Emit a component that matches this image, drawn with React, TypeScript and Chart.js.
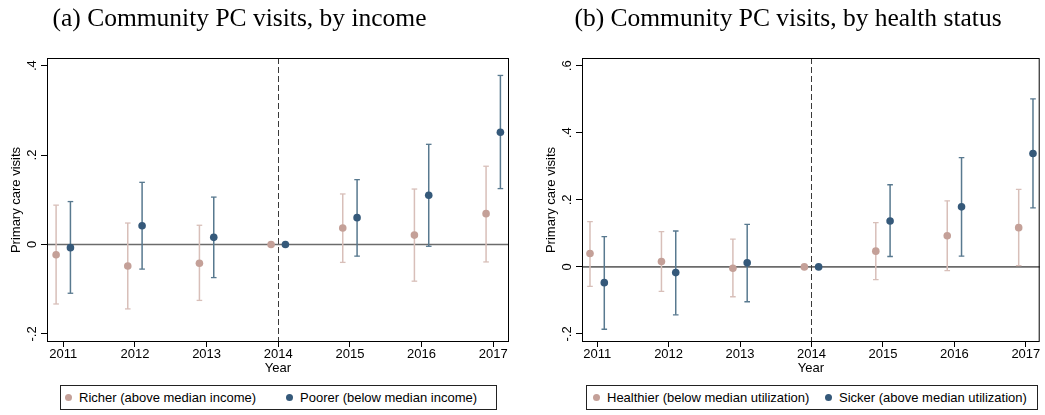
import React, { useEffect, useRef } from "react";
import { Chart, registerables } from "chart.js";

Chart.register(...registerables);

// ---- data ----------------------------------------------------------------
const years = [2011, 2012, 2013, 2014, 2015, 2016, 2017];

// (a) by income
const richerEst = [-0.023, -0.048, -0.042, 0, 0.037, 0.021, 0.069];
const richerLo = [-0.133, -0.144, -0.125, 0, -0.04, -0.082, -0.039];
const richerHi = [0.088, 0.048, 0.043, 0, 0.113, 0.124, 0.175];
const poorerEst = [-0.007, 0.042, 0.016, 0, 0.06, 0.11, 0.251];
const poorerLo = [-0.109, -0.055, -0.074, 0, -0.026, -0.004, 0.125];
const poorerHi = [0.096, 0.139, 0.106, 0, 0.145, 0.224, 0.378];

// (b) by health status
const healthierEst = [0.04, 0.016, -0.004, 0, 0.047, 0.093, 0.117];
const healthierLo = [-0.058, -0.073, -0.089, 0, -0.038, -0.011, 0.004];
const healthierHi = [0.135, 0.105, 0.083, 0, 0.132, 0.197, 0.231];
const sickerEst = [-0.047, -0.017, 0.012, 0, 0.137, 0.179, 0.338];
const sickerLo = [-0.186, -0.143, -0.104, 0, 0.031, 0.032, 0.176];
const sickerHi = [0.09, 0.107, 0.127, 0, 0.245, 0.326, 0.501];

const incomeYTicks = [-0.2, 0, 0.2, 0.4];
const incomeYTickLabels = ["-.2", "0", ".2", ".4"];
const healthYTicks = [-0.2, 0, 0.2, 0.4, 0.6];
const healthYTickLabels = ["-.2", "0", ".2", ".4", ".6"];
const yearTickLabels = ["2011", "2012", "2013", "2014", "2015", "2016", "2017"];

const EVENT_YEAR = 2014;

// ---- styling ---------------------------------------------------------------
const LIGHT = { point: "#c4a098", bar: "#d8bfb9" };
const DARK = { point: "#35597a", bar: "#58798f" };
const DODGE = 0.1;
const SANS = "'Liberation Sans', Arial, Helvetica, sans-serif";
const SERIF = "'Liberation Serif', 'Times New Roman', serif";
const PAGE_H = 415;

type Series = {
  label: string;
  est: number[];
  lo: number[];
  hi: number[];
  color: { point: string; bar: string };
  shift: number;
};

type PanelProps = {
  left: number;
  width: number;
  padRight: number;
  xMin: number;
  xMax: number;
  yMin: number;
  yMax: number;
  yTicks: number[];
  yTickLabels: string[];
  series: Series[];
  title: string;
  titleCenter: number;
  legendLeft: number;
  legendWidth: number;
  legendItemOffsets: number[];
};

function whiskerData(s: Series) {
  const out: { x: number; y: number | null }[] = [];
  years.forEach((yr, i) => {
    if (s.hi[i] === s.lo[i]) return;
    const x = yr + s.shift;
    out.push({ x, y: s.lo[i] }, { x, y: s.hi[i] }, { x, y: null });
  });
  return out;
}

// zero line, dashed reference year, and the box around the plot region
const framePlugin = {
  id: "frameAndRefs",
  beforeDatasetsDraw(chart: any, _args: any, opts: any) {
    const { ctx, chartArea: a, scales } = chart;
    const x = scales.x;
    const y = scales.y;
    ctx.save();
    const y0 = y.getPixelForValue(0);
    ctx.strokeStyle = "#6b6b6b";
    ctx.lineWidth = 1.6;
    ctx.beginPath();
    ctx.moveTo(a.left, y0);
    ctx.lineTo(a.right, y0);
    ctx.stroke();

    const xv = Math.round(x.getPixelForValue(opts.eventYear)) + 0.5;
    ctx.setLineDash([6, 3]);
    ctx.strokeStyle = "#3a3a3a";
    ctx.lineWidth = 1;
    ctx.beginPath();
    ctx.moveTo(xv, a.top);
    ctx.lineTo(xv, a.bottom);
    ctx.stroke();
    ctx.restore();
  },
  afterDraw(chart: any) {
    const { ctx, chartArea: a } = chart;
    ctx.save();
    ctx.strokeStyle = "#000";
    ctx.lineWidth = 1;
    ctx.strokeRect(a.left + 0.5, a.top + 0.5, a.right - a.left - 1, a.bottom - a.top - 1);
    ctx.restore();
  },
};

function Panel(p: PanelProps) {
  const ref = useRef<HTMLCanvasElement | null>(null);

  useEffect(() => {
    if (!ref.current) return;
    const font = { family: SANS, size: 13 };
    const datasets: any[] = [];
    p.series.forEach((s) => {
      datasets.push({
        label: s.label,
        data: years.map((yr, i) => ({ x: yr + s.shift, y: s.est[i] })),
        showLine: false,
        pointStyle: "circle",
        pointRadius: 3.8,
        pointBackgroundColor: s.color.point,
        pointBorderColor: s.color.point,
        pointBorderWidth: 0,
        order: 0,
      });
      datasets.push({
        label: s.label + " CI",
        data: whiskerData(s),
        showLine: true,
        spanGaps: false,
        fill: false,
        borderColor: s.color.bar,
        borderWidth: 1.5,
        pointStyle: "line",
        pointRadius: 2.8,
        pointBorderColor: s.color.bar,
        pointBorderWidth: 1.3,
        order: 1,
      });
    });

    const chart = new Chart(ref.current, {
      type: "line",
      data: { datasets },
      plugins: [framePlugin],
      options: {
        animation: false,
        responsive: false,
        events: [],
        layout: { padding: { top: 58, left: 0, right: p.padRight, bottom: 39 } },
        plugins: {
          legend: { display: false },
          tooltip: { enabled: false },
          title: { display: false },
          frameAndRefs: { eventYear: EVENT_YEAR },
        } as any,
        scales: {
          x: {
            type: "linear",
            min: p.xMin,
            max: p.xMax,
            afterFit: (s: any) => {
              s.height = 34;
            },
            afterBuildTicks: (s: any) => {
              s.ticks = years.map((v) => ({ value: v }));
            },
            ticks: {
              padding: 0,
              minRotation: 0,
              maxRotation: 0,
              autoSkip: false,
              color: "#000",
              font,
              callback: (_v: any, i: number) => yearTickLabels[i],
            },
            grid: { drawOnChartArea: false, drawTicks: true, tickLength: 5, color: "#000" },
            border: { display: false },
            title: { display: true, text: "Year", color: "#000", font, padding: { top: 0, bottom: 0 } },
          },
          y: {
            type: "linear",
            min: p.yMin,
            max: p.yMax,
            afterFit: (s: any) => {
              s.width = 47;
            },
            afterBuildTicks: (s: any) => {
              s.ticks = p.yTicks.map((v) => ({ value: v }));
            },
            ticks: {
              minRotation: 90,
              maxRotation: 90,
              crossAlign: "center",
              padding: 1,
              color: "#000",
              font,
              callback: (_v: any, i: number) => p.yTickLabels[i],
            },
            grid: { drawOnChartArea: false, drawTicks: true, tickLength: 6, color: "#000" },
            border: { display: false },
            title: {
              display: true,
              text: "Primary care visits",
              color: "#000",
              font,
              padding: { top: 9, bottom: 0 },
            },
          },
        } as any,
      },
    });
    return () => chart.destroy();
  }, []);

  return (
    <>
      <canvas
        ref={ref}
        width={p.width}
        height={PAGE_H}
        style={{ position: "absolute", left: p.left, top: 0, width: p.width, height: PAGE_H }}
      />
      <div
        style={{
          position: "absolute",
          left: p.titleCenter - 300,
          width: 600,
          top: 3,
          textAlign: "center",
          fontFamily: SERIF,
          fontSize: 25.5,
          lineHeight: "30px",
          color: "#000",
          whiteSpace: "nowrap",
        }}
      >
        {p.title}
      </div>
      <div
        style={{
          position: "absolute",
          left: p.legendLeft,
          top: 385,
          width: p.legendWidth,
          height: 25,
          boxSizing: "border-box",
          border: "1px solid #222",
          background: "#fff",
        }}
      >
        {p.series.map((s, i) => (
          <div
            key={s.label}
            style={{
              position: "absolute",
              left: p.legendItemOffsets[i] - 1,
              top: 0,
              height: 23,
              display: "flex",
              alignItems: "center",
              fontFamily: SANS,
              fontSize: 13,
              color: "#000",
              whiteSpace: "nowrap",
            }}
          >
            <span
              style={{
                display: "inline-block",
                width: 7,
                height: 7,
                borderRadius: "50%",
                background: s.color.point,
                marginRight: 7.5,
              }}
            />
            <span>{s.label}</span>
          </div>
        ))}
      </div>
    </>
  );
}

export default function App() {
  const incomeSeries: Series[] = [
    { label: "Richer (above median income)", est: richerEst, lo: richerLo, hi: richerHi, color: LIGHT, shift: -DODGE },
    { label: "Poorer (below median income)", est: poorerEst, lo: poorerLo, hi: poorerHi, color: DARK, shift: DODGE },
  ];
  const healthSeries: Series[] = [
    {
      label: "Healthier (below median utilization)",
      est: healthierEst,
      lo: healthierLo,
      hi: healthierHi,
      color: LIGHT,
      shift: -DODGE,
    },
    { label: "Sicker (above median utilization)", est: sickerEst, lo: sickerLo, hi: sickerHi, color: DARK, shift: DODGE },
  ];

  return (
    <div
      style={{
        position: "fixed",
        left: 0,
        top: 0,
        width: 1045,
        height: PAGE_H,
        background: "#fff",
        overflow: "hidden",
      }}
    >
      <Panel
        left={0}
        width={522}
        padRight={13}
        xMin={2010.773}
        xMax={2017.22}
        yMin={-0.218}
        yMax={0.417}
        yTicks={incomeYTicks}
        yTickLabels={incomeYTickLabels}
        series={incomeSeries}
        title="(a) Community PC visits, by income"
        titleCenter={239.5}
        legendLeft={60}
        legendWidth={437}
        legendItemOffsets={[4.5, 225.5]}
      />
      <Panel
        left={535}
        width={510}
        padRight={1}
        xMin={2010.788}
        xMax={2017.194}
        yMin={-0.224}
        yMax={0.623}
        yTicks={healthYTicks}
        yTickLabels={healthYTickLabels}
        series={healthSeries}
        title="(b) Community PC visits, by health status"
        titleCenter={788}
        legendLeft={586}
        legendWidth={452}
        legendItemOffsets={[6.5, 238.5]}
      />
    </div>
  );
}
